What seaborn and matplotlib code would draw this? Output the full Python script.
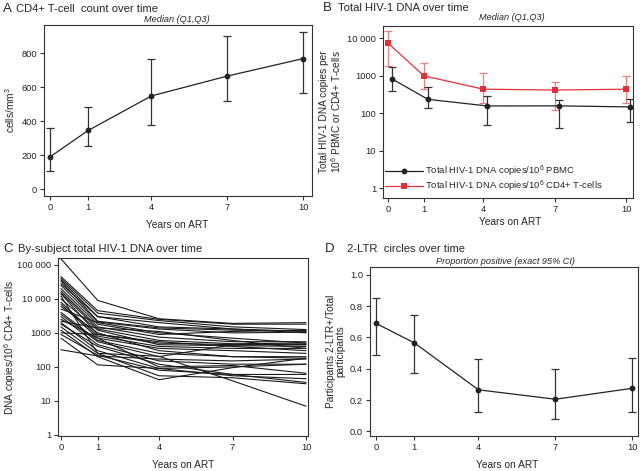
import numpy as np
import pandas as pd
import matplotlib
matplotlib.use("Agg")
import matplotlib.pyplot as plt
import seaborn as sns
from matplotlib.ticker import FixedLocator, FixedFormatter, NullLocator

# ---------------- data ----------------
years = [0, 1, 4, 7, 10]
year_labels = ["0", "1", "4", "7", "10"]
year_pos = [0, 1.5, 4, 7, 10]          # axis position of each visit

cd4_median = [190, 345, 548, 665, 768]
cd4_q1 = [108, 255, 378, 520, 565]
cd4_q3 = [358, 482, 765, 898, 922]

pbmc_median = [820, 236, 157, 158, 148]
pbmc_q1 = [394, 136, 50, 41, 57]
pbmc_q3 = [1750, 490, 290, 226, 240]
cd4dna_median = [7360, 1000, 440, 418, 440]
cd4dna_q1 = [1860, 447, 186, 126, 186]
cd4dna_q3 = [15900, 2150, 1200, 685, 1000]

subj_y0 = [150000, 45000, 40000, 36000, 33000, 25000, 20000, 17000, 15000, 14000,
           12000, 10000, 8000, 7000, 6000, 4000, 3500, 3000, 2500, 2000,
           1800, 1500, 1200, 900, 700, 320, 1000, 2200, 5000, 28000]
subj_y1 = [9000, 4500, 3800, 3000, 2200, 2100, 1800, 1500, 1300, 900,
           250, 1200, 800, 700, 1000, 600, 550, 450, 700, 300,
           400, 250, 200, 220, 115, 210, 900, 1400, 2000, 3000]
subj_y4 = [2600, 2500, 2300, 1500, 1400, 1300, 900, 750, 600, 500,
           205, 450, 400, 350, 300, 250, 200, 150, 100, 90,
           120, 55, 42, 80, 90, 170, 550, 1100, 1000, 2000]
subj_y7 = [1900, 1800, 1500, 1300, 1200, 1000, 1100, 550, 480, 450,
           39, 420, 350, 300, 200, 200, 450, 120, 110, 55,
           60, 48, 95, 60, 100, 150, 400, 600, 700, 1300]
subj_y10 = [2000, 1800, 1250, 1100, 1150, 1050, 1200, 550, 500, 450,
            7, 400, 350, 250, 180, 200, 450, 120, 65, 45,
            35, 32, 180, 60, 120, 170, 300, 350, 500, 1000]

ltr_prop = [0.69, 0.565, 0.265, 0.205, 0.275]
ltr_lo = [0.49, 0.375, 0.125, 0.08, 0.125]
ltr_hi = [0.85, 0.745, 0.46, 0.395, 0.47]

# ---------------- style ----------------
sns.set_theme(style="ticks")
plt.rcParams["font.family"] = ["Liberation Sans", "DejaVu Sans"]
plt.rcParams["mathtext.fontset"] = "custom"
plt.rcParams["mathtext.rm"] = "Liberation Sans"
plt.rcParams["mathtext.it"] = "Liberation Sans:italic"
plt.rcParams["mathtext.bf"] = "Liberation Sans:bold"

TICK_FS = 6.7
LAB_FS = 7.3
TITLE_FS = 8.1
LETTER_FS = 9.5
SUB_FS = 6.6
DARK = "#222222"
RED = "#e0303a"
RED_LIGHT = "#e98080"

W, H = 640, 471
fig = plt.figure(figsize=(W / 100, H / 100), dpi=100)
fig.patch.set_facecolor("white")


def add_ax(l, r, t, b):
    return fig.add_axes([l / W, 1 - b / H, (r - l) / W, (b - t) / H])


def style_ax(ax, xlim):
    for s in ax.spines.values():
        s.set_color("#333333")
        s.set_linewidth(0.8)
    ax.tick_params(axis="both", labelsize=TICK_FS, length=3, width=0.8,
                   color="#333333", pad=2, labelcolor="#222222")
    ax.set_xlim(*xlim)
    ax.xaxis.set_major_locator(FixedLocator(year_pos))
    ax.xaxis.set_major_formatter(FixedFormatter(year_labels))
    ax.xaxis.set_minor_locator(NullLocator())
    ax.set_xlabel("")
    ax.set_facecolor("white")


def ftext(x, y, s, **kw):
    fig.text(x / W, 1 - y / H, s, **kw)


# ---------------- Panel A ----------------
axA = add_ax(44, 312, 25, 196)
dfA = pd.DataFrame({"pos": year_pos, "median": cd4_median})
axA.errorbar(year_pos, cd4_median,
             yerr=[np.array(cd4_median) - np.array(cd4_q1), np.array(cd4_q3) - np.array(cd4_median)],
             fmt="none", ecolor="#333333", elinewidth=0.9, capsize=3.2, capthick=0.9, zorder=2)
sns.lineplot(data=dfA, x="pos", y="median", ax=axA, color=DARK, lw=0.9,
             marker="o", markersize=4.2, markeredgewidth=0, zorder=3)
style_ax(axA, (-0.24, 10.34))
axA.set_ylim(-40, 965)
axA.set_yticks([0, 200, 400, 600, 800])
axA.set_ylabel("cells/mm$^{3}$", fontsize=LAB_FS, labelpad=3)

ftext(3, 9, "A", fontsize=LETTER_FS, va="center", ha="left")
ftext(16, 9, "CD4+ T-cell  count over time", fontsize=TITLE_FS, va="center", ha="left")
ftext(177, 19.5, "Median (Q1,Q3)", fontsize=SUB_FS, style="italic", va="center", ha="center")
ftext(177, 225, "Years on ART", fontsize=LAB_FS, va="center", ha="center")

# ---------------- Panel B ----------------
axB = add_ax(383, 633, 26, 198)
axB.set_yscale("log")
offset = 0.17
pos_black = [p + offset for p in year_pos]
lab_cd4 = "Total HIV-1 DNA copies/10$^{6}$ CD4+ T-cells"
lab_pbmc = "Total HIV-1 DNA copies/10$^{6}$ PBMC"
axB.errorbar(year_pos, cd4dna_median,
             yerr=[np.array(cd4dna_median) - np.array(cd4dna_q1), np.array(cd4dna_q3) - np.array(cd4dna_median)],
             fmt="none", ecolor=RED_LIGHT, elinewidth=0.9, capsize=3.2, capthick=0.9, zorder=2)
dfB_red = pd.DataFrame({"pos": year_pos, "value": cd4dna_median})
dfB_blk = pd.DataFrame({"pos": pos_black, "value": pbmc_median})
sns.lineplot(data=dfB_red, x="pos", y="value", ax=axB,
             color=RED, lw=0.9, marker="s", markersize=4.2, markeredgewidth=0,
             label=lab_cd4, zorder=3)
axB.errorbar(pos_black, pbmc_median,
             yerr=[np.array(pbmc_median) - np.array(pbmc_q1), np.array(pbmc_q3) - np.array(pbmc_median)],
             fmt="none", ecolor="#333333", elinewidth=0.9, capsize=3.2, capthick=0.9, zorder=4)
sns.lineplot(data=dfB_blk, x="pos", y="value", ax=axB,
             color=DARK, lw=0.9, marker="o", markersize=4.2, markeredgewidth=0,
             label=lab_pbmc, zorder=5)
style_ax(axB, (-0.22, 10.29))
axB.set_ylim(10 ** -0.26, 10 ** 4.33)
axB.yaxis.set_major_locator(FixedLocator([1, 10, 100, 1000, 10000]))
axB.yaxis.set_major_formatter(FixedFormatter(["1", "10", "100", "1000", "10 000"]))
axB.yaxis.set_minor_locator(NullLocator())
axB.set_ylabel("Total HIV-1 DNA copies per\n10$^{6}$ PBMC or CD4+ T-cells",
               fontsize=LAB_FS, labelpad=3, linespacing=1.0)
h, l = axB.get_legend_handles_labels()
order = [1, 0]
axB.legend([h[i] for i in order], [l[i] for i in order], loc="lower left",
           bbox_to_anchor=(0.008, 0.022), frameon=False, fontsize=6.8,
           handlelength=4.0, handletextpad=0.25, labelspacing=0.0,
           borderaxespad=0.0, borderpad=0.0)

ftext(323, 8, "B", fontsize=LETTER_FS, va="center", ha="left")
ftext(338, 8, "Total HIV-1 DNA over time", fontsize=TITLE_FS, va="center", ha="left")
ftext(512, 17.5, "Median (Q1,Q3)", fontsize=SUB_FS, style="italic", va="center", ha="center")
ftext(510, 222, "Years on ART", fontsize=LAB_FS, va="center", ha="center")

# ---------------- Panel C ----------------
axC = add_ax(58, 308, 258, 436)
axC.set_yscale("log")
rows = []
for i in range(len(subj_y0)):
    vals = [subj_y0[i], subj_y1[i], subj_y4[i], subj_y7[i], subj_y10[i]]
    for p, v in zip(year_pos, vals):
        rows.append({"subject": i, "pos": p, "value": v})
dfC = pd.DataFrame(rows)
sns.lineplot(data=dfC, x="pos", y="value", units="subject", estimator=None,
             ax=axC, color="#1a1a1a", lw=0.8)
style_ax(axC, (-0.12, 10.08))
axC.set_ylim(10 ** -0.03, 10 ** 5.2)
axC.yaxis.set_major_locator(FixedLocator([1, 10, 100, 1000, 10000, 100000]))
axC.yaxis.set_major_formatter(FixedFormatter(["1", "10", "100", "1000", "10 000", "100 000"]))
axC.yaxis.set_minor_locator(NullLocator())
axC.set_ylabel("DNA copies/10$^{6}$ CD4+ T-cells", fontsize=LAB_FS)
axC.yaxis.set_label_coords(-0.158, 0.5)

ftext(3, 249, "C", fontsize=LETTER_FS, va="center", ha="left")
ftext(18, 249, "By-subject total HIV-1 DNA over time", fontsize=TITLE_FS, va="center", ha="left")
ftext(183, 465, "Years on ART", fontsize=LAB_FS, va="center", ha="center")

# ---------------- Panel D ----------------
axD = add_ax(370, 638, 267, 436)
dfD = pd.DataFrame({"pos": year_pos, "prop": ltr_prop})
axD.errorbar(year_pos, ltr_prop,
             yerr=[np.array(ltr_prop) - np.array(ltr_lo), np.array(ltr_hi) - np.array(ltr_prop)],
             fmt="none", ecolor="#333333", elinewidth=0.9, capsize=3.2, capthick=0.9, zorder=2)
sns.lineplot(data=dfD, x="pos", y="prop", ax=axD, color=DARK, lw=0.9,
             marker="o", markersize=4.2, markeredgewidth=0, zorder=3)
style_ax(axD, (-0.23, 10.22))
axD.set_ylim(-0.03, 1.05)
axD.set_yticks([0.0, 0.2, 0.4, 0.6, 0.8, 1.0])
axD.yaxis.set_major_formatter(FixedFormatter(["0.0", "0.2", "0.4", "0.6", "0.8", "1.0"]))
axD.set_ylabel("Participants 2-LTR+/Total\nparticipants", fontsize=LAB_FS, labelpad=3,
               linespacing=1.0)

ftext(325, 249, "D", fontsize=LETTER_FS, va="center", ha="left")
ftext(347, 249, "2-LTR  circles over time", fontsize=TITLE_FS, va="center", ha="left")
ftext(505, 261, "Proportion positive (exact 95% CI)", fontsize=SUB_FS, style="italic",
      va="center", ha="center")
ftext(507, 465, "Years on ART", fontsize=LAB_FS, va="center", ha="center")

fig.savefig("out.png", dpi=100, facecolor="white")
